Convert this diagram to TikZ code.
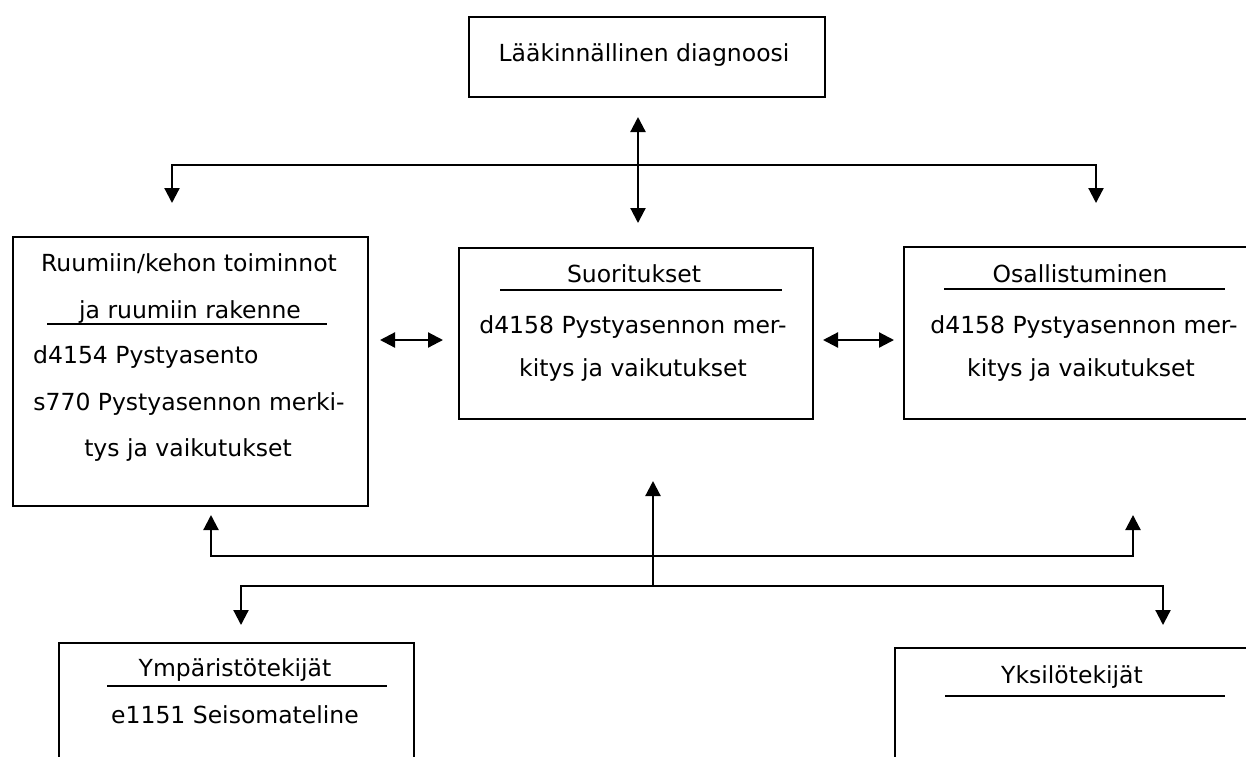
\documentclass[tikz,border=0pt]{standalone}
\usepackage{fontspec}
\setmainfont{DejaVu Sans}
\usetikzlibrary{arrows.meta}
\begin{document}
\begin{tikzpicture}[x=1pt,y=-1pt,
  box/.style={draw, line width=2pt, anchor=north west, inner sep=0pt},
  txt/.style={anchor=base, inner sep=0pt, font=\fontsize{23.5}{27}\selectfont},
  txtw/.style={txt, anchor=base west},
  conn/.style={line width=2.2pt, line join=miter},
  tipend/.style={-{Triangle[length=15pt,width=15pt]}},
  tipboth/.style={{Triangle[length=15pt,width=15pt]}-{Triangle[length=15pt,width=15pt]}},
  rule/.style={line width=1.8pt}]
\useasboundingbox (0,0) rectangle (1246,756);
\clip (0,0) rectangle (1246,756);

% boxes
\node[box, minimum width=356pt, minimum height=80pt] (diag) at (468,16) {};
\node[box, minimum width=355pt, minimum height=269pt] (body) at (12,236) {};
\node[box, minimum width=354pt, minimum height=171pt] (act) at (458,247) {};
\node[box, minimum width=360pt, minimum height=172pt] (part) at (903,246) {};
\node[box, minimum width=355pt, minimum height=200pt] (env) at (58,642) {};
\node[box, minimum width=360pt, minimum height=200pt] (pers) at (894,647) {};

% texts
\node[txt] (tdiag) at (644,61) {Lääkinnällinen diagnoosi};

\node[txt] (tb1) at (189,271) {Ruumiin/kehon toiminnot};
\node[txt] (tb2) at (190,318) {ja ruumiin rakenne};
\node[txtw] (tb3) at (33,363) {d4154 Pystyasento};
\node[txt] (tb4) at (189,410) {s770 Pystyasennon merki-};
\node[txt] (tb5) at (188,456) {tys ja vaikutukset};
\draw[rule] (47,324) -- (327,324);

\node[txt] (ta1) at (634,282) {Suoritukset};
\node[txt] (ta2) at (633,333) {d4158 Pystyasennon mer-};
\node[txt] (ta3) at (633,376) {kitys ja vaikutukset};
\draw[rule] (500,290) -- (782,290);

\node[txt] (tp1) at (1080,282) {Osallistuminen};
\node[txt] (tp2) at (1084,333) {d4158 Pystyasennon mer-};
\node[txt] (tp3) at (1081,376) {kitys ja vaikutukset};
\draw[rule] (944,289) -- (1225,289);

\node[txt] (te1) at (235,676) {Ympäristötekijät};
\node[txt] (te2) at (235,723) {e1151 Seisomateline};
\draw[rule] (107,686) -- (387,686);

\node[txt] (tpe1) at (1072,683) {Yksilötekijät};
\draw[rule] (945,696) -- (1225,696);

% connector end points
\coordinate (dTop) at (638,117);
\coordinate (dBot) at (638,223);
\coordinate (hL) at (172,165);
\coordinate (hR) at (1096,165);
\coordinate (aL) at (172,203);
\coordinate (aR) at (1096,203);
\coordinate (ba1) at (380,340);
\coordinate (ba2) at (443,340);
\coordinate (ap1) at (823,340);
\coordinate (ap2) at (894,340);
\coordinate (vUp) at (653,481);
\coordinate (vBot) at (653,586);
\coordinate (uL) at (211,515);
\coordinate (uLc) at (211,556);
\coordinate (uRc) at (1133,556);
\coordinate (uR) at (1133,515);
\coordinate (dL) at (241,625);
\coordinate (dLc) at (241,586);
\coordinate (dRc) at (1163,586);
\coordinate (dR) at (1163,625);

% connectors
\draw[conn, tipboth] (dTop) -- (dBot);
\draw[conn, tipboth] (aL) -- (hL) -- (hR) -- (aR);
\draw[conn, tipboth] (ba1) -- (ba2);
\draw[conn, tipboth] (ap1) -- (ap2);
\draw[conn, tipend] (vBot) -- (vUp);
\draw[conn, tipboth] (uL) -- (uLc) -- (uRc) -- (uR);
\draw[conn, tipboth] (dL) -- (dLc) -- (dRc) -- (dR);
\end{tikzpicture}
\end{document}
